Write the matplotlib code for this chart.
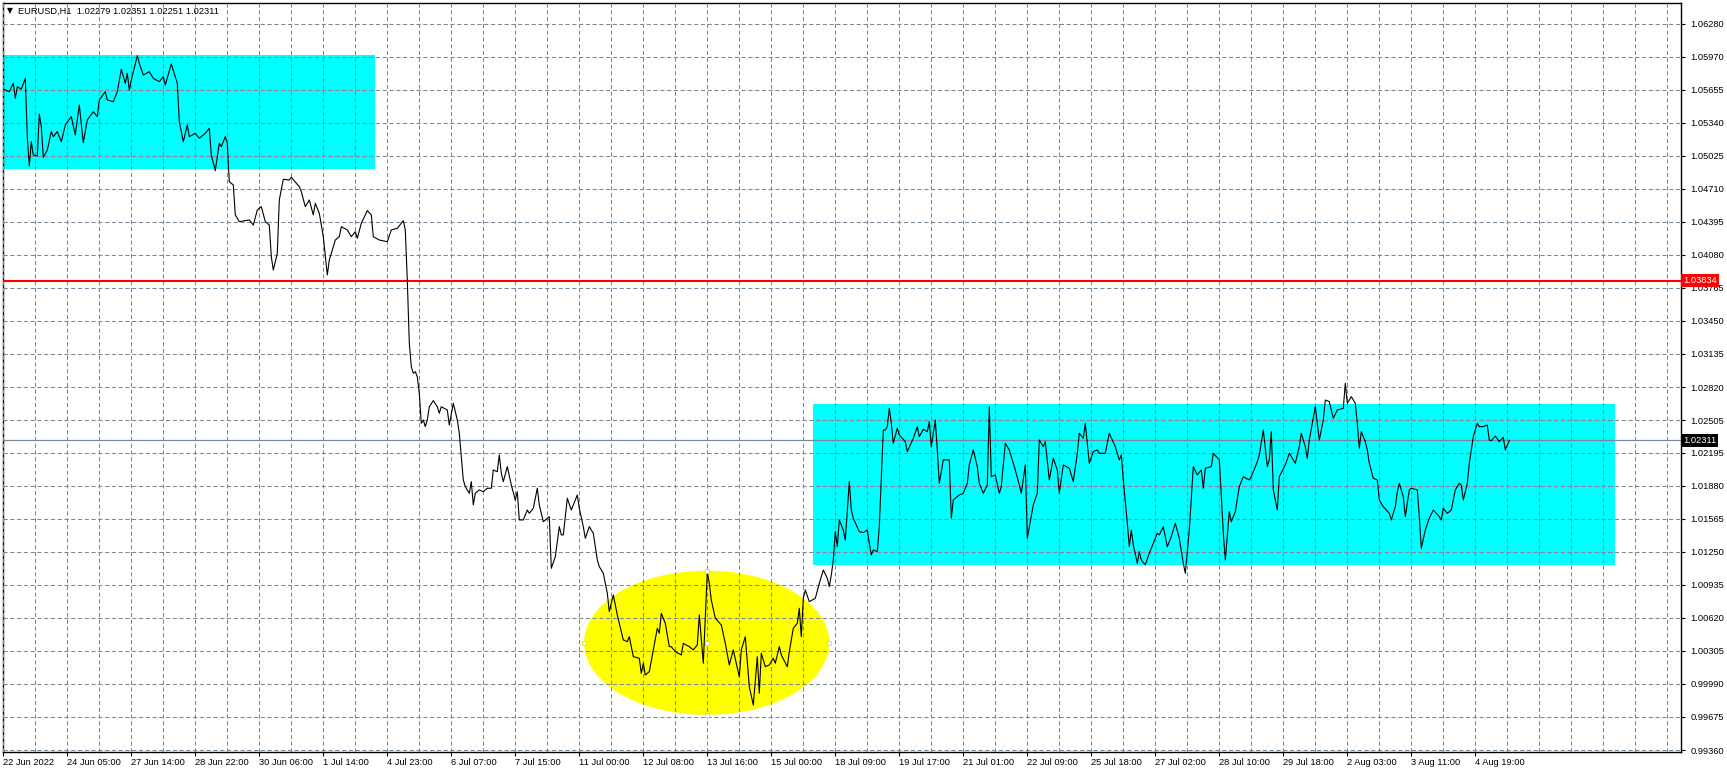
"""
EURUSD H1 chart in the look of a MetaTrader 4 window.
"""

import matplotlib

matplotlib.use("Agg")
import matplotlib.pyplot as plt
from matplotlib.patches import Ellipse, Rectangle

# hourly bar number (0 = first bar on screen) and the close read at that bar
bar_idx = [
    0, 3, 5, 6, 7, 9, 11, 12, 13, 14, 15, 17, 18, 19, 20, 22, 24, 25, 27, 29,
    31, 34, 36, 38, 40, 42, 45, 47, 48, 51, 52, 55, 57, 59, 61, 62, 63, 64, 67, 68,
    70, 73, 75, 78, 80, 81, 84, 87, 88, 90, 92, 93, 96, 98, 101, 103, 104, 106, 108, 109,
    111, 112, 113, 115, 116, 118, 123, 125, 127, 129, 131, 133, 134, 135, 137, 138, 140, 143, 144, 148,
    149, 151, 153, 155, 156, 158, 160, 162, 163, 166, 168, 169, 172, 174, 176, 177, 179, 182, 184, 185,
    188, 192, 194, 197, 200, 201, 202, 203, 204, 205, 206, 207, 208, 209, 210, 211, 212, 213, 215, 217,
    218, 219, 222, 223, 225, 227, 228, 229, 230, 231, 233, 234, 235, 236, 238, 240, 242, 244, 245, 247,
    248, 249, 250, 252, 254, 256, 257, 258, 260, 262, 263, 265, 267, 268, 270, 273, 274, 276, 278, 279,
    280, 282, 284, 287, 288, 290, 291, 293, 295, 297, 298, 300, 302, 303, 305, 307, 308, 310, 312, 313,
    315, 318, 319, 320, 321, 323, 325, 327, 328, 329, 331, 333, 334, 336, 339, 340, 343, 345, 347, 348,
    350, 352, 353, 354, 356, 359, 361, 363, 365, 368, 369, 371, 373, 375, 377, 378, 379, 381, 383, 385,
    386, 388, 389, 392, 393, 395, 397, 398, 399, 400, 401, 403, 406, 408, 410, 412, 413, 414, 415, 416,
    417, 418, 420, 421, 423, 424, 425, 428, 430, 432, 433, 434, 435, 437, 438, 440, 441, 442, 443, 444,
    445, 447, 448, 451, 452, 455, 457, 458, 460, 462, 463, 464, 466, 467, 468, 470, 473, 474, 475, 478,
    480, 482, 483, 485, 487, 488, 490, 492, 493, 494, 496, 498, 499, 501, 503, 506, 508, 509, 511, 512,
    515, 517, 518, 520, 521, 523, 525, 527, 528, 530, 533, 535, 537, 538, 540, 541, 542, 543, 545, 547,
    548, 551, 553, 556, 558, 559, 560, 562, 563, 564, 565, 567, 568, 569, 571, 573, 575, 577, 578, 580,
    582, 584, 586, 588, 590, 591, 593, 595, 597, 599, 600, 601, 604, 605, 608, 609, 610, 611, 613, 614,
    616, 618, 620, 623, 624, 627, 628, 630, 632, 633, 634, 635, 637, 638, 641, 643, 646, 648, 649, 651,
    652, 653, 656, 658, 660, 661, 663, 665, 667, 670, 671, 672, 674, 676, 677, 678, 679, 681, 682, 683,
    685, 687, 688, 690, 693, 694, 696, 697, 698, 700, 701, 703, 704, 707, 708, 709, 711, 713, 715, 718,
    719, 720, 722, 724, 726, 728, 729, 730, 732, 733, 735, 737, 738, 740, 742, 743, 744, 746, 748, 750,
    751, 753,
]
close = [
    1.05658, 1.05635, 1.05715, 1.05572, 1.05682, 1.05658, 1.05762, 1.05206, 1.04927, 1.05158,
    1.05031, 1.05022, 1.05422, 1.05301, 1.05010, 1.05079, 1.05254, 1.05206, 1.05254, 1.05158,
    1.05317, 1.05397, 1.05222, 1.05508, 1.05149, 1.05365, 1.05444, 1.05397, 1.05556, 1.05635,
    1.05556, 1.05539, 1.05635, 1.05848, 1.05715, 1.05810, 1.05651, 1.05746, 1.05978, 1.05905,
    1.05794, 1.05825, 1.05762, 1.05730, 1.05778, 1.05699, 1.05899, 1.05715, 1.05349, 1.05158,
    1.05317, 1.05206, 1.05238, 1.05191, 1.05238, 1.05286, 1.05031, 1.04882, 1.05143, 1.05111,
    1.05206, 1.05143, 1.04777, 1.04746, 1.04460, 1.04396, 1.04412, 1.04364, 1.04507, 1.04539,
    1.04396, 1.04364, 1.04062, 1.03935, 1.04095, 1.04603, 1.04800, 1.04793, 1.04819, 1.04729,
    1.04682, 1.04539, 1.04603, 1.04460, 1.04571, 1.04476, 1.04253, 1.03888, 1.04031, 1.04221,
    1.04253, 1.04348, 1.04317, 1.04253, 1.04300, 1.04238, 1.04380, 1.04501, 1.04460, 1.04253,
    1.04221, 1.04205, 1.04317, 1.04333, 1.04405, 1.04317, 1.03840, 1.03237, 1.03014, 1.02951,
    1.02966, 1.02918, 1.02760, 1.02474, 1.02506, 1.02442, 1.02506, 1.02632, 1.02690, 1.02632,
    1.02570, 1.02632, 1.02601, 1.02458, 1.02665, 1.02506, 1.02379, 1.02156, 1.01934, 1.01870,
    1.01807, 1.01918, 1.01696, 1.01807, 1.01839, 1.01822, 1.01855, 1.01855, 1.02029, 1.02013,
    1.02172, 1.01998, 1.01918, 1.02061, 1.01886, 1.01743, 1.01822, 1.01553, 1.01553, 1.01648,
    1.01616, 1.01664, 1.01855, 1.01696, 1.01536, 1.01584, 1.01092, 1.01203, 1.01489, 1.01410,
    1.01410, 1.01759, 1.01648, 1.01791, 1.01664, 1.01489, 1.01378, 1.01489, 1.01426, 1.01171,
    1.01108, 1.01045, 1.00854, 1.00679, 1.00838, 1.00647, 1.00568, 1.00409, 1.00393, 1.00440,
    1.00250, 1.00235, 1.00092, 1.00187, 1.00075, 1.00107, 1.00314, 1.00520, 1.00473, 1.00663,
    1.00568, 1.00345, 1.00345, 1.00297, 1.00266, 1.00377, 1.00345, 1.00314, 1.00361, 1.00647,
    1.00187, 1.01060, 1.00949, 1.00790, 1.00616, 1.00552, 1.00377, 1.00171, 1.00314, 1.00059,
    1.00314, 1.00440, 0.99964, 0.99789, 1.00250, 0.99901, 1.00282, 1.00154, 1.00171, 1.00235,
    1.00187, 1.00345, 1.00266, 1.00154, 1.00297, 1.00520, 1.00568, 1.00711, 1.00440, 1.00806,
    1.00886, 1.00774, 1.00806, 1.00949, 1.01076, 1.00997, 1.00917, 1.01028, 1.01171, 1.01441,
    1.01298, 1.01553, 1.01457, 1.01362, 1.01918, 1.01648, 1.01569, 1.01441, 1.01432, 1.01457,
    1.01331, 1.01219, 1.01267, 1.01251, 1.01489, 1.02410, 1.02410, 1.02442, 1.02617, 1.02474,
    1.02284, 1.02427, 1.02363, 1.02299, 1.02204, 1.02331, 1.02442, 1.02347, 1.02417, 1.02394,
    1.02490, 1.02251, 1.02506, 1.02220, 1.01902, 1.02125, 1.02125, 1.01569, 1.01743, 1.01791,
    1.01807, 1.01902, 1.02077, 1.02220, 1.02061, 1.01902, 1.01807, 1.01886, 1.02632, 1.01965,
    1.01982, 1.01807, 1.01870, 1.02284, 1.02220, 1.02029, 1.01886, 1.01807, 1.02077, 1.01378,
    1.01696, 1.01807, 1.02315, 1.02251, 1.02299, 1.01934, 1.02141, 1.02029, 1.01807, 1.02077,
    1.02045, 1.01918, 1.02188, 1.02379, 1.02331, 1.02474, 1.02284, 1.02093, 1.02204, 1.02220,
    1.02188, 1.02188, 1.02379, 1.02251, 1.02125, 1.02172, 1.01934, 1.01524, 1.01298, 1.01457,
    1.01314, 1.01140, 1.01251, 1.01171, 1.01124, 1.01235, 1.01331, 1.01426, 1.01410, 1.01489,
    1.01298, 1.01394, 1.01521, 1.01378, 1.01140, 1.01045, 1.01457, 1.02061, 1.01982, 1.02029,
    1.01855, 1.02045, 1.02061, 1.02188, 1.02125, 1.01791, 1.01426, 1.01171, 1.01632, 1.01536,
    1.01632, 1.01870, 1.01965, 1.01934, 1.01965, 1.02108, 1.02172, 1.02410, 1.02061, 1.02125,
    1.02394, 1.01839, 1.01648, 1.01965, 1.02077, 1.02188, 1.02093, 1.02251, 1.02379, 1.02251,
    1.02141, 1.02315, 1.02632, 1.02315, 1.02506, 1.02696, 1.02680, 1.02522, 1.02601, 1.02617,
    1.02856, 1.02665, 1.02728, 1.02665, 1.02474, 1.02236, 1.02394, 1.02299, 1.02220, 1.02093,
    1.01950, 1.01934, 1.01743, 1.01679, 1.01616, 1.01553, 1.01679, 1.01822, 1.01902, 1.01775,
    1.01584, 1.01839, 1.01855, 1.01839, 1.01584, 1.01283, 1.01457, 1.01569, 1.01648, 1.01584,
    1.01553, 1.01664, 1.01616, 1.01648, 1.01839, 1.01902, 1.01886, 1.01743, 1.01902, 1.02093,
    1.02347, 1.02474, 1.02442, 1.02442, 1.02458, 1.02315, 1.02308, 1.02353, 1.02299, 1.02341,
    1.02220, 1.02311,
]

time_labels = [
    "22 Jun 2022", "24 Jun 05:00", "27 Jun 14:00", "28 Jun 22:00", "30 Jun 06:00",
    "1 Jul 14:00", "4 Jul 23:00", "6 Jul 07:00", "7 Jul 15:00", "11 Jul 00:00",
    "12 Jul 08:00", "13 Jul 16:00", "15 Jul 00:00", "18 Jul 09:00", "19 Jul 17:00",
    "21 Jul 01:00", "22 Jul 09:00", "25 Jul 18:00", "27 Jul 02:00", "28 Jul 10:00",
    "29 Jul 18:00", "2 Aug 03:00", "3 Aug 11:00", "4 Aug 19:00",
]
price_labels = [
    "1.06280", "1.05970", "1.05655", "1.05340", "1.05025", "1.04710", "1.04395",
    "1.04080", "1.03765", "1.03450", "1.03135", "1.02820", "1.02505", "1.02195",
    "1.01880", "1.01565", "1.01250", "1.00935", "1.00620", "1.00305", "0.99990",
    "0.99675", "0.99360",
]

symbol_title = "EURUSD,H1  1.02279 1.02351 1.02251 1.02311"
level_line = 1.03834
last_price = 1.02311

# drawn objects: (first bar, last bar, low, high)
range_box_1 = (-5, 185.9, 1.04895, 1.05985)
range_box_2 = (404.7, 805.9, 1.01123, 1.02658)
# ellipse: centre bar, centre price, width in bars, height in price
bottom_ellipse = (351.7, 1.00382, 122.7, 0.01375)

bars_per_label = 32
bars_per_grid = 16

fig_w, fig_h, fig_dpi = 17.27, 7.74, 100
grid_color = "#778899"
grid_on_cyan = "#9c7f91"
grid_dash = (0, (4, 2.5))
font_list = ["Liberation Sans Narrow", "Liberation Sans", "DejaVu Sans"]
font_size = 6.7

plt.rcParams["font.family"] = font_list

fig = plt.figure(figsize=(fig_w, fig_h), dpi=fig_dpi, facecolor="white")
ax = fig.add_axes([2.5 / 1727, 22.5 / 774, 1678.5 / 1727, 749 / 774])
ax.set_facecolor("white")

x_lo, x_hi = -0.4, 838.85
y_lo, y_hi = 0.993458, 1.064849
grid_bars = list(range(0, 840, bars_per_grid))
price_pos = [float(p) for p in price_labels]

cyan_boxes = []
for x0, x1, lo, hi in [range_box_1, range_box_2]:
    rect = Rectangle((x0, lo), x1 - x0, hi - lo, facecolor="#00ffff", edgecolor="none", zorder=1)
    ax.add_patch(rect)
    cyan_boxes.append(rect)
ex, ey, ew, eh = bottom_ellipse
ax.add_patch(Ellipse((ex, ey), ew, eh, facecolor="#ffff00", edgecolor="none", zorder=1))
# selection handles of the ellipse
ax.plot(
    [ex - ew / 2, ex + ew / 2, ex, ex, ex],
    [ey, ey, ey + eh / 2, ey - eh / 2, ey],
    linestyle="none",
    marker="s",
    markersize=2.5,
    markerfacecolor="white",
    markeredgecolor="#e0e000",
    markeredgewidth=0.6,
    zorder=4,
)

# grid sits over the coloured objects, under the price line
ax.set_axisbelow(False)
ax.grid(True, which="both", axis="x", color=grid_color, linewidth=0.75, linestyle=grid_dash)
ax.grid(True, which="major", axis="y", color=grid_color, linewidth=0.75, linestyle=grid_dash)
# on the cyan boxes the dotted grid shows in a mauve tint
for rect in cyan_boxes:
    hl = ax.hlines(price_pos, x_lo, x_hi, colors=grid_on_cyan, linewidth=0.75,
                   linestyles=grid_dash, zorder=2.55)
    vl = ax.vlines(grid_bars, y_lo, y_hi, colors=grid_on_cyan, linewidth=0.75,
                   linestyles=grid_dash, zorder=2.55)
    hl.set_clip_path(rect)
    vl.set_clip_path(rect)

ax.axhline(last_price, color=grid_color, linewidth=0.9, zorder=2.6)
ax.axhline(level_line, color="#ff0000", linewidth=1.5, zorder=3)
ax.plot(bar_idx, close, color="black", linewidth=0.8, zorder=3.5)

ax.set_xlim(x_lo, x_hi)
ax.set_ylim(y_lo, y_hi)

label_pos = [bars_per_label * n for n in range(len(time_labels))]
ax.set_xticks(label_pos)
ax.set_xticklabels(time_labels, ha="left", fontsize=font_size)
ax.set_xticks(grid_bars, minor=True)
ax.tick_params(axis="x", which="major", length=3, width=0.8, pad=2, color="black")
ax.tick_params(axis="x", which="minor", length=0)

ax.yaxis.tick_right()
ax.set_yticks(price_pos)
ax.set_yticklabels(price_labels, fontsize=font_size)
ax.tick_params(axis="y", length=3, width=0.8, pad=4, color="black")

for spine in ax.spines.values():
    spine.set_color("black")
    spine.set_linewidth(1.0)

# price boxes on the right scale
for value, box_color in [(level_line, "#ff0000"), (last_price, "black")]:
    ax.text(
        1.0013,
        value,
        f"{value:.5f}",
        transform=ax.get_yaxis_transform(),
        ha="left",
        va="center",
        fontsize=font_size,
        color="white",
        clip_on=False,
        zorder=10,
        bbox=dict(boxstyle="square,pad=0.2", facecolor=box_color, edgecolor="none"),
    )

fig.text(7 / 1727, 1 - 11 / 774, "\u25bc", family=["DejaVu Sans"], fontsize=5.5, va="center", ha="left")
fig.text(18 / 1727, 1 - 11 / 774, symbol_title, fontsize=font_size, va="center", ha="left")

fig.savefig("out.png", dpi=fig_dpi, facecolor="white")
plt.close(fig)
